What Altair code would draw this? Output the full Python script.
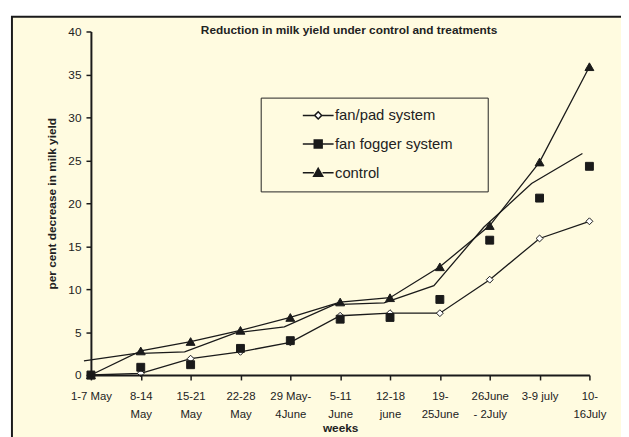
import json
import altair as alt
import pandas as pd

# ---------------- data ----------------
weeks = [["1-7 May"], ["8-14", "May"], ["15-21", "May"], ["22-28", "May"],
         ["29 May-", "4June"], ["5-11", "June"], ["12-18", "june"],
         ["19-", "25June"], ["26June", "- 2July"], ["3-9 july"], ["10-", "16July"]]
week_index = list(range(len(weeks)))
series_names = ["fan/pad system", "fan fogger system", "control"]
fan_pad = [0, 0.2, 1.9, 2.7, 3.8, 6.9, 7.2, 7.2, 11.1, 15.9, 17.9]
fan_fogger = [0, 0.9, 1.2, 3.1, 4.0, 6.5, 6.7, 8.8, 15.7, 20.6, 24.3]
control = [0, 2.8, 3.9, 5.2, 6.7, 8.5, 9.0, 12.6, 17.4, 24.8, 35.9]
# unlabelled extra line (drawn slightly left of the week positions)
extra_x = [-0.14, 0.87, 1.88, 2.9, 3.88, 4.88, 5.88, 6.88, 7.88, 8.84, 9.86]
extra_y = [1.65, 2.5, 2.7, 4.9, 5.6, 8.2, 8.4, 10.4, 17.2, 22.3, 25.8]
y_ticks = [0, 5, 10, 15, 20, 25, 30, 35, 40]

rows = []
for name, vals in zip(series_names, [fan_pad, fan_fogger, control]):
    for i, v in zip(week_index, vals):
        rows.append({"week": i, "value": v, "series": name})
df = pd.DataFrame(rows)
extra_df = pd.DataFrame({"week": extra_x, "value": extra_y})
frame_df = pd.DataFrame({"k": [0]})

# ---------------- style ----------------
FONT = "Arial, Liberation Sans, sans-serif"
CREAM = "#FFFBE0"
INK = "#1a1a1a"
TXT = "#222222"
W, H = 505, 348
nb = "\u00a0"
zwj = "\u200d"

x_enc = alt.X("week:Q", scale=alt.Scale(domain=[0, 10], nice=False, zero=False),
              axis=alt.Axis(values=week_index, labelExpr=json.dumps(weeks) + "[datum.value]",
                            title="weeks", grid=False, domainColor=INK, domainWidth=2,
                            tickColor=INK, tickWidth=1.5, tickSize=5, labelFont=FONT,
                            labelFontSize=11.5, labelColor=TXT, labelLineHeight=18,
                            labelPadding=11, labelAngle=0, labelFlush=False, labelOverlap=False,
                            titleFont=FONT, titleFontSize=12, titleFontWeight="bold",
                            titleColor=TXT, titlePadding=3, zindex=1))
y_enc = alt.Y("value:Q", scale=alt.Scale(domain=[0, 40], nice=False),
              axis=alt.Axis(values=y_ticks, title="per cent decrease in milk yield", grid=False,
                            domainColor=INK, domainWidth=2, tickColor=INK, tickWidth=1.5,
                            tickSize=5, labelFont=FONT, labelFontSize=12, labelColor=TXT,
                            labelPadding=5, titleFont=FONT, titleFontSize=12,
                            titleFontWeight="bold", titleColor=TXT, titlePadding=10, zindex=1))

frame = alt.Chart(frame_df).mark_rect(fill=CREAM, stroke=INK, strokeWidth=2).encode(
    x=alt.value(-80), x2=alt.value(560), y=alt.value(-15), y2=alt.value(440))

extra_line = alt.Chart(extra_df).mark_line(color=INK, strokeWidth=1.3).encode(x=x_enc, y=y_enc)

lines = alt.Chart(df).transform_filter(
    alt.datum.series != "fan fogger system"
).mark_line(color=INK, strokeWidth=1.3).encode(x=x_enc, y=y_enc, detail="series:N")

pts_pad = alt.Chart(df).transform_filter(alt.datum.series == "fan/pad system").mark_point(
    shape="diamond", size=49, fill="white", stroke=INK, strokeWidth=1, opacity=1
).encode(x=x_enc, y=y_enc)
pts_fog = alt.Chart(df).transform_filter(alt.datum.series == "fan fogger system").mark_point(
    shape="square", size=64, fill=INK, stroke=INK, strokeWidth=1, opacity=1
).encode(x=x_enc, y=y_enc)
pts_ctl = alt.Chart(df).transform_filter(alt.datum.series == "control").mark_point(
    shape="triangle-up", size=81, fill=INK, stroke=INK, strokeWidth=1, opacity=1
).encode(x=x_enc, y=y_enc)

# legend symbols: line with marker
legend_paths = [
    "M-3.9,0H-0.9M0.9,0H3.9M-0.9,0L0,-0.9L0.9,0L0,0.9Z",
    "M-3.9,0H-1M1,0H3.9M-1,-1H1V1H-1Z",
    "M-3.9,0H-1.1M1.1,0H3.9M0,-1.1L1.15,0.9L-1.15,0.9Z",
]
legend = alt.Legend(
    orient="none", legendX=172, legendY=67,
    title=zwj + nb * 7 + zwj, titleOrient="left", titleFont=FONT, titleFontSize=14.5,
    titlePadding=3,
    padding=10.5, strokeColor="#222222", fillColor=CREAM, cornerRadius=0,
    symbolSize=64, symbolStrokeWidth=1.5, symbolStrokeColor=INK, symbolOffset=8.25,
    labelFont=FONT, labelFontSize=15, labelColor=TXT, labelOffset=9.5, labelLimit=400,
    labelExpr="datum.label + '" + nb * 6 + zwj + "'", rowPadding=13,
)
legend_layer = alt.Chart(df).mark_point(size=0, stroke=INK, opacity=1).encode(
    x=x_enc, y=y_enc,
    shape=alt.Shape("series:N", scale=alt.Scale(domain=series_names, range=legend_paths), legend=legend),
    fill=alt.Fill("series:N", scale=alt.Scale(domain=series_names, range=["white", INK, INK]), legend=legend),
    stroke=alt.Stroke("series:N", scale=alt.Scale(domain=series_names, range=[INK, INK, INK]), legend=legend),
)

chart = alt.layer(frame, extra_line, lines, pts_pad, pts_fog, pts_ctl, legend_layer).properties(
    width=W, height=H,
    title=alt.TitleParams("Reduction in milk yield under control and treatments", font=FONT,
                          fontSize=12, fontWeight="bold", color=TXT, anchor="middle",
                          frame="group", offset=-22, dx=9),
    autosize=alt.AutoSizeParams(type="none"),
    padding={"left": 84, "top": 21, "right": 32, "bottom": 60},
    background="white",
).configure_view(stroke=None)

chart.save("out.html", embed_options={"renderer": "svg", "actions": False})
